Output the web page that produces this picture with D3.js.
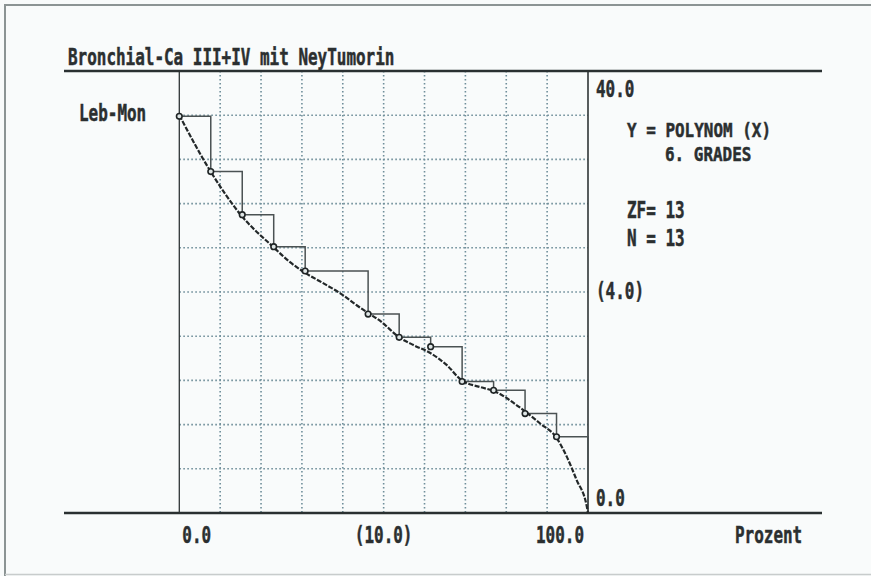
<!DOCTYPE html>
<html>
<head>
<meta charset="utf-8">
<script src="https://d3js.org/d3.v7.min.js"></script>
<style>
  html, body { margin: 0; padding: 0; background: #f9fbfb; }
  svg { display: block; }
  text { font-family: "DejaVu Sans Mono", "Liberation Mono", monospace; font-weight: bold; fill: #2b2f30; stroke: #2b2f30; stroke-width: 0.5; }
</style>
</head>
<body>
<svg id="chart" width="871" height="576"></svg>
<script>
// percentile position of each patient (Prozent) and survival in months (Leb-Mon)
var pct    = [0, 7.7, 15.4, 23.1, 30.8, 38.5, 46.2, 53.8, 61.5, 69.2, 76.9, 84.6, 92.3];
var months = [35.9, 30.9, 27.0, 24.1, 21.9, 21.9, 18.0, 15.9, 15.05, 11.9, 11.1, 9.0, 6.9];

// fitted polynomial (6. grades)
var fitX = [0, 7.5, 15.0, 22.9, 27.1, 30.5, 35.2, 39.3, 43.4, 46.2, 49.1, 53.8, 57.3, 61.3, 65.4, 69.1, 73.6, 77.2, 83.5, 88.3, 92.3, 94.8, 97.2, 99.7, 100];
var fitY = [36.0, 31.0, 27.0, 24.1, 22.7, 21.8, 20.8, 19.9, 18.8, 18.1, 17.4, 15.9, 15.2, 14.5, 13.4, 12.0, 11.4, 11.0, 9.5, 8.1, 6.8, 5.1, 3.0, 0.6, 0];

var xTicks = [10, 20, 30, 40, 50, 60, 70, 80, 90];
var yTicks = [4, 8, 12, 16, 20, 24, 28, 32, 36];
var xLabels = [{v: 0, t: "0.0"}, {v: 50, t: "(10.0)"}, {v: 100, t: "100.0"}];
var yLabels = [{v: 40, t: "40.0"}, {v: 20, t: "(4.0)"}, {v: 0, t: "0.0"}];
var notes = [
  {t: "Y = POLYNOM (X)", x: 627, y: 137, fs: 20},
  {t: "6. GRADES",       x: 665, y: 161, fs: 20},
  {t: "ZF= 13",          x: 627, y: 218, fs: 23},
  {t: "N = 13",          x: 627, y: 246, fs: 23}
];

var svg = d3.select('#chart');
var CW = 9.6; // width of one character of the plotter font

var x = d3.scaleLinear().domain([0, 100]).range([179.3, 588]);
var y = d3.scaleLinear().domain([0, 40]).range([513, 71]);

function txt(s, px, py, anchor, fs) {
  var w = s.length * CW;
  var sx = anchor === 'end' ? px - w : anchor === 'middle' ? px - w / 2 : px;
  return svg.append('text')
    .attr('x', sx).attr('y', py)
    .attr('font-size', fs || 23)
    .attr('textLength', w)
    .attr('lengthAdjust', 'spacingAndGlyphs')
    .text(s);
}

// photo frame
svg.append('path').attr('d', 'M5,576 V5 H871')
  .attr('fill', 'none').attr('stroke', '#8c9494').attr('stroke-width', 2);
svg.append('line').attr('x1', 5).attr('x2', 871).attr('y1', 574.5).attr('y2', 574.5)
  .attr('stroke', '#c8cccc').attr('stroke-width', 1.5);

// dotted grid
var grid = svg.append('g').attr('stroke', '#6f8e9a').attr('stroke-width', 1.6)
  .attr('stroke-dasharray', '1.6,2.4');
grid.selectAll('.gx').data(xTicks).enter().append('line')
  .attr('x1', function(d) { return x(d); }).attr('x2', function(d) { return x(d); })
  .attr('y1', y(40)).attr('y2', y(0));
grid.selectAll('.gy').data(yTicks).enter().append('line')
  .attr('y1', function(d) { return y(d); }).attr('y2', function(d) { return y(d); })
  .attr('x1', x(0)).attr('x2', x(100));

// axes lines
svg.append('line').attr('x1', x(0)).attr('x2', x(0)).attr('y1', y(40)).attr('y2', y(0))
  .attr('stroke', '#2f3536').attr('stroke-width', 1.3);
svg.append('line').attr('x1', x(100)).attr('x2', x(100)).attr('y1', y(40)).attr('y2', y(0))
  .attr('stroke', '#2f3536').attr('stroke-width', 1.6);
svg.append('line').attr('x1', 64).attr('x2', 822).attr('y1', y(40)).attr('y2', y(40))
  .attr('stroke', '#2a3031').attr('stroke-width', 2.6);
svg.append('line').attr('x1', 64).attr('x2', 822).attr('y1', y(0)).attr('y2', y(0))
  .attr('stroke', '#2a3031').attr('stroke-width', 2.6);

// step function
var stepPts = pct.map(function(p, i) { return [p, months[i]]; });
stepPts.push([100, months[months.length - 1]]);
var stepLine = d3.line()
  .x(function(d) { return x(d[0]); })
  .y(function(d) { return y(d[1]); })
  .curve(d3.curveStepAfter);
svg.append('path').attr('d', stepLine(stepPts) + 'V' + y(0))
  .attr('fill', 'none').attr('stroke', '#4b5253').attr('stroke-width', 1.5);

// fitted curve
var fitLine = d3.line()
  .x(function(d, i) { return x(fitX[i]); })
  .y(function(d) { return y(d); })
  .curve(d3.curveMonotoneX);
svg.append('path').attr('d', fitLine(fitY))
  .attr('fill', 'none').attr('stroke', '#232829').attr('stroke-width', 2.2)
  .attr('stroke-dasharray', '5,1.6');

// data points (tied values share one marker)
var pts = stepPts.slice(0, pct.length).filter(function(d, i) { return i === 0 || months[i] !== months[i - 1]; });
svg.selectAll('.pt').data(pts).enter().append('circle')
  .attr('cx', function(d) { return x(d[0]); })
  .attr('cy', function(d) { return y(d[1]); })
  .attr('r', 2.8)
  .attr('fill', '#dfe6e6').attr('stroke', '#1f2425').attr('stroke-width', 1.6);

// texts
txt('Bronchial-Ca III+IV mit NeyTumorin', 68, 65);
txt('Leb-Mon', 79, 121);
xLabels.forEach(function(l) {
  var a = l.v === 0 ? 'start' : l.v === 100 ? 'end' : 'middle';
  var px = l.v === 0 ? x(0) + 3 : l.v === 100 ? x(100) - 4 : x(l.v);
  txt(l.t, px, 543, a);
});
txt('Prozent', 735, 543);
yLabels.forEach(function(l) {
  var py = l.v === 40 ? y(40) + 26 : l.v === 0 ? y(0) - 7 : y(l.v) + 7;
  txt(l.t, 596, py);
});
notes.forEach(function(n) { txt(n.t, n.x, n.y, 'start', n.fs); });
</script>
</body>
</html>
